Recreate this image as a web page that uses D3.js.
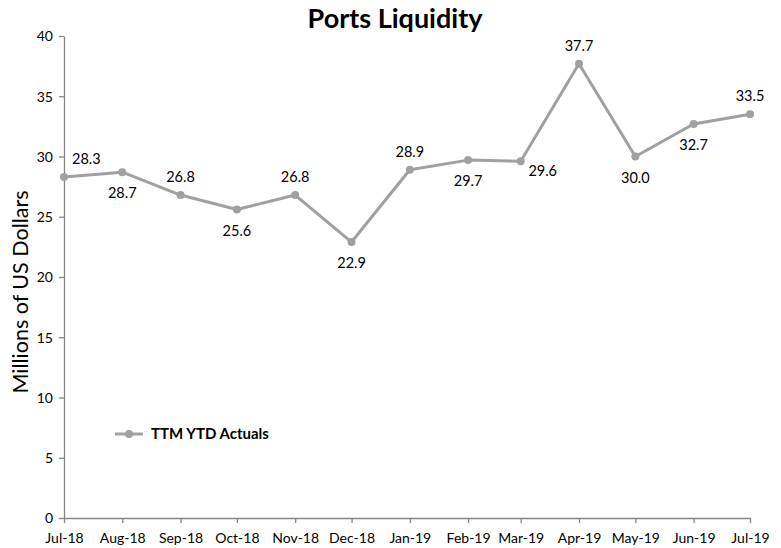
<!DOCTYPE html>
<meta charset="utf-8">
<style>
body{margin:0;background:#fff;}
text{font-family:Lato,"Open Sans",sans-serif;fill:#000;}
.axis path,.axis line{stroke:#868686;stroke-width:1.3px;}
.axis text{font-size:14px;}
.title{font-size:27px;font-weight:bold;text-anchor:middle;}
.ytitle{font-size:21.5px;text-anchor:middle;}
.lbl{font-size:14.5px;}
.legend{font-size:15px;font-weight:bold;}
</style>
<body>
<script src="https://d3js.org/d3.v7.min.js"></script>
<script>

var months=["2018-07","2018-08","2018-09","2018-10","2018-11","2018-12","2019-01","2019-02","2019-03","2019-04","2019-05","2019-06","2019-07"];
var values=[28.3,28.7,26.8,25.6,26.8,22.9,28.9,29.7,29.6,37.7,30.0,32.7,33.5];
var yTicks=[0,5,10,15,20,25,30,35,40];
// where each data label sits relative to its point
var place=["right","below","above","below","above","below","above","below","belowright","above","below","below","above"];

var parse=d3.timeParse("%Y-%m");
var data=months.map((m,i)=>({date:parse(m),value:values[i],place:place[i]}));

var W=781,H=548;
var svg=d3.select("body").append("svg").attr("width",W).attr("height",H);

var x=d3.scaleTime().domain(d3.extent(data,d=>d.date)).range([64,750]);
var y=d3.scaleLinear().domain([0,40]).range([518,36]);

svg.append("text").attr("class","title").attr("x",395).attr("y",28).text("Ports Liquidity");

svg.append("text").attr("class","ytitle")
	.attr("transform","translate(28,292) rotate(-90)").text("Millions of US Dollars");

svg.append("g").attr("class","axis").attr("transform","translate(64,0)")
	.call(d3.axisLeft(y).tickValues(yTicks).tickSize(5).tickPadding(6).tickSizeOuter(0))
	.selectAll("text").attr("dy","0.35em");

svg.append("g").attr("class","axis").attr("transform","translate(0,518)")
	.call(d3.axisBottom(x).tickValues(data.map(d=>d.date)).tickFormat(d3.timeFormat("%b-%y")).tickSize(5).tickPadding(10).tickSizeOuter(0));

svg.selectAll(".axis .domain").attr("stroke","#868686");

var line=d3.line().x(d=>x(d.date)).y(d=>y(d.value));
svg.append("path").datum(data).attr("d",line)
	.attr("fill","none").attr("stroke","#a0a0a0").attr("stroke-width",3).attr("stroke-linejoin","round");

svg.selectAll(".dot").data(data).enter().append("circle")
	.attr("cx",d=>x(d.date)).attr("cy",d=>y(d.value)).attr("r",4).attr("fill","#a0a0a0");

var off={right:[8,-18,"start"],below:[0,21,"middle"],above:[0,-18,"middle"],belowright:[22,10,"middle"]};
svg.selectAll(".lbl").data(data).enter().append("text").attr("class","lbl")
	.attr("x",d=>x(d.date)+off[d.place][0])
	.attr("y",d=>y(d.value)+off[d.place][1])
	.attr("dy","0.35em")
	.attr("text-anchor",d=>off[d.place][2])
	.text(d=>d3.format(".1f")(d.value));

var lg=svg.append("g").attr("transform","translate(115,434)");
lg.append("line").attr("x1",0).attr("x2",28).attr("stroke","#a0a0a0").attr("stroke-width",3);
lg.append("circle").attr("cx",14).attr("r",4).attr("fill","#a0a0a0");
lg.append("text").attr("class","legend").attr("x",36).attr("dy","0.35em").text("TTM YTD Actuals");

</script>
</body>
</html>
